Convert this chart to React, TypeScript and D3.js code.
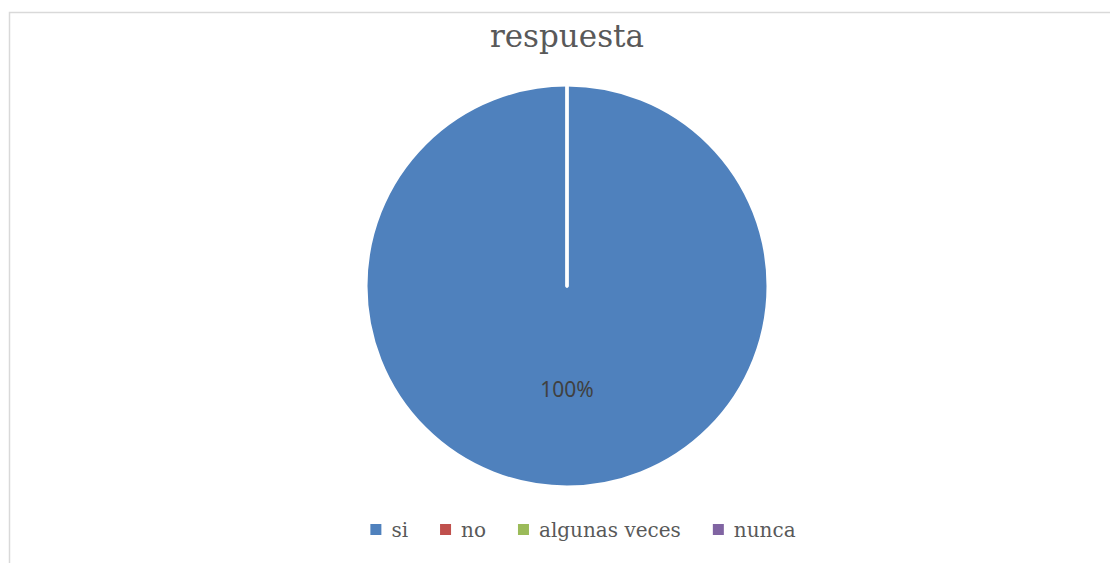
import React, { useEffect, useRef } from "react";
import * as d3 from "d3";

const categories = ["si", "no", "algunas veces", "nunca"];
const values = [100, 0, 0, 0];
const colors = ["#4f81bd", "#c0504d", "#9bbb59", "#8064a2"];
const title = "respuesta";

const W = 1110;
const H = 563;

export default function App() {
  const ref = useRef<SVGSVGElement | null>(null);

  useEffect(() => {
    document.body.style.margin = "0";
    const svg = d3.select(ref.current);
    svg.selectAll("*").remove();

    // frame
    svg
      .append("rect")
      .attr("x", 9.5)
      .attr("y", 12.5)
      .attr("width", W + 20)
      .attr("height", H + 20)
      .attr("fill", "#fff")
      .attr("stroke", "#d9d9d9")
      .attr("stroke-width", 1.5);

    // title
    svg
      .append("text")
      .attr("x", 567)
      .attr("y", 47)
      .attr("text-anchor", "middle")
      .attr("font-family", "DejaVu Serif")
      .attr("font-size", 31)
      .attr("fill", "#595959")
      .text(title);

    const cx = 567;
    const cy = 286;
    const r = 201;
    const total = d3.sum(values);
    const data = categories.map((c, i) => ({ c, v: values[i], color: colors[i] }));
    const pie = d3.pie<any>().sort(null).value((d: any) => d.v);
    const arcs = pie(data);
    const arc = d3.arc<any>().innerRadius(0).outerRadius(r);
    const g = svg.append("g").attr("transform", `translate(${cx},${cy})`);
    g.selectAll("path")
      .data(arcs)
      .join("path")
      .attr("d", arc as any)
      .attr("fill", (d: any) => d.data.color)
      .attr("stroke", "#fff")
      .attr("stroke-width", 3)
      .attr("stroke-linejoin", "round");

    const fmt = d3.format(".0%");
    const labelArc = d3.arc<any>().innerRadius(0).outerRadius(r * 1.02);
    g.selectAll("text.lbl")
      .data(arcs.filter((d: any) => d.data.v > 0))
      .join("text")
      .attr("class", "lbl")
      .attr("x", (d: any) => {
        const full = d.endAngle - d.startAngle >= 2 * Math.PI - 1e-6;
        return full ? 0 : labelArc.centroid(d)[0];
      })
      .attr("y", (d: any) => {
        const full = d.endAngle - d.startAngle >= 2 * Math.PI - 1e-6;
        return full ? r / 2 + 2 : labelArc.centroid(d)[1];
      })
      .attr("text-anchor", "middle")
      .attr("dominant-baseline", "central")
      .attr("font-family", "Noto Sans")
      .attr("font-size", 21)
      .attr("fill", "#404040")
      .text((d: any) => fmt(d.data.v / total));

    // legend
    const lg = svg.append("g");
    const items = lg
      .selectAll("g.item")
      .data(data)
      .join("g")
      .attr("class", "item");
    items
      .append("rect")
      .attr("width", 11)
      .attr("height", 11)
      .attr("y", 524)
      .attr("fill", (d: any) => d.color);
    items
      .append("text")
      .attr("x", 21)
      .attr("y", 537)
      .attr("font-family", "DejaVu Serif")
      .attr("font-size", 20)
      .attr("fill", "#595959")
      .text((d: any) => d.c);
    const widths: number[] = [];
    items.each(function () {
      const t = d3.select(this).select("text").node() as SVGTextElement;
      widths.push(21 + t.getComputedTextLength());
    });
    const gap = 32;
    const totalW = d3.sum(widths) + gap * (widths.length - 1);
    let x = 583 - totalW / 2;
    items.attr("transform", (_d: any, i: number) => {
      const tx = x;
      x += widths[i] + gap;
      return `translate(${tx},0)`;
    });
  }, []);

  return (
    <svg
      ref={ref}
      width={W}
      height={H}
      style={{ position: "absolute", left: 0, top: 0, display: "block" }}
    />
  );
}
